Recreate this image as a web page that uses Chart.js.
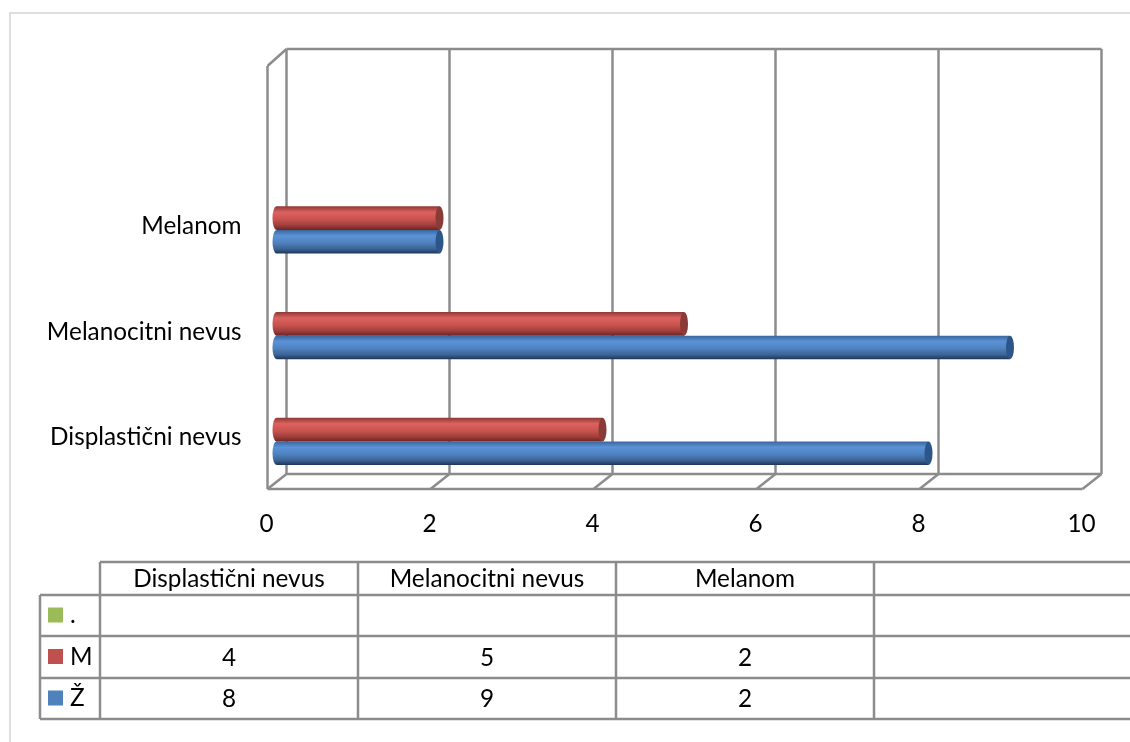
<!DOCTYPE html>
<html>
<head>
<meta charset="utf-8">
<script src="https://cdn.jsdelivr.net/npm/chart.js@4"></script>
<style>
  html, body { margin: 0; padding: 0; background: #fff; overflow: hidden; }
  #wrap { position: relative; width: 1130px; height: 742px; }
  #frame { position: absolute; left: 9px; top: 12px; width: 1125px; height: 740px; border: 2px solid #dedede; box-sizing: border-box; }
  canvas { position: absolute; left: 0; top: 0; }
</style>
</head>
<body>
<div id="wrap">
  <div id="frame"></div>
  <canvas id="chart" width="1130" height="742"></canvas>
</div>
<script>
// Data
const categories = ['Displastični nevus', 'Melanocitni nevus', 'Melanom', ''];
const seriesNames = ['.', 'M', 'Ž'];   // top to bottom, same order as the table rows
const valuesDot = [null, null, null, null];
const valuesM = [4, 5, 2, null];
const valuesZ = [8, 9, 2, null];
const xTicks = [0, 2, 4, 6, 8, 10];

const FONT = 'Lato, Carlito, sans-serif';
const FONT_SIZE = 24.3;
const GRID = '#8c8c8c';
const DEPTH_X = 19, DEPTH_Y = -15;      // back wall offset
const BAR_X = 9, BAR_Y = -6.5;          // bars sit halfway into the depth

const colours = ['#9bbb59', '#c0504d', '#4f81bd'];
const seriesValues = [valuesDot, valuesM, valuesZ];
const shades = [
  { top: '#9bbb59', light: '#9bbb59', mid: '#9bbb59', low: '#9bbb59', bottom: '#9bbb59', cap: '#9bbb59' },
  { top: '#8e3835', light: '#dd625e', mid: '#c9534f', low: '#a03f3c', bottom: '#6e2523', cap: '#8a3a37' },
  { top: '#3a659c', light: '#5b93d8', mid: '#4f81bd', low: '#3c6496', bottom: '#1d3557', cap: '#2d5688' }
];

function barGradient(ctx, el, s) {
  const half = el.height / 2;
  const g = ctx.createLinearGradient(0, el.y - half, 0, el.y + half);
  g.addColorStop(0, s.top);
  g.addColorStop(0.25, s.light);
  g.addColorStop(0.55, s.mid);
  g.addColorStop(0.8, s.low);
  g.addColorStop(1, s.bottom);
  return g;
}

// 3D box behind the bars
const wallsPlugin = {
  id: 'walls',
  beforeDatasetsDraw(chart) {
    const { ctx, chartArea: a, scales } = chart;
    ctx.save();
    ctx.strokeStyle = GRID;
    ctx.lineWidth = 2.5;
    ctx.lineJoin = 'round';
    const line = (x1, y1, x2, y2) => {
      ctx.beginPath(); ctx.moveTo(x1, y1); ctx.lineTo(x2, y2); ctx.stroke();
    };
    line(a.left, a.top, a.left, a.bottom);
    line(a.left, a.bottom, a.right, a.bottom);
    line(a.left, a.top, a.left + DEPTH_X, a.top + DEPTH_Y - 2);
    line(a.left + DEPTH_X, a.top + DEPTH_Y - 2, a.right + DEPTH_X, a.top + DEPTH_Y - 2);
    line(a.left + DEPTH_X, a.bottom + DEPTH_Y, a.right + DEPTH_X, a.bottom + DEPTH_Y);
    xTicks.forEach(t => {
      const x = scales.x.getPixelForValue(t);
      line(x, a.bottom, x + DEPTH_X, a.bottom + DEPTH_Y);
      line(x + DEPTH_X, a.top + DEPTH_Y - 2, x + DEPTH_X, a.bottom + DEPTH_Y);
    });
    ctx.restore();
  },
  beforeDatasetDraw(chart, args) {
    const ctx = chart.ctx;
    const s = shades[args.index];
    chart.getDatasetMeta(args.index).data.forEach(el => {
      el.options = Object.assign({}, el.options, { backgroundColor: barGradient(ctx, el, s) });
    });
    ctx.save();
    ctx.translate(BAR_X, BAR_Y);
  },
  afterDatasetDraw(chart, args) {
    const ctx = chart.ctx;
    const s = shades[args.index];
    chart.getDatasetMeta(args.index).data.forEach((el, i) => {
      if (chart.data.datasets[args.index].data[i] == null) return;
      const r = el.height / 2;
      // rounded start of the cylinder
      ctx.fillStyle = barGradient(ctx, el, s);
      ctx.beginPath();
      ctx.ellipse(el.base, el.y, 4, r, 0, 0, Math.PI * 2);
      ctx.fill();
      // end cap
      ctx.fillStyle = s.cap;
      ctx.beginPath();
      ctx.ellipse(el.x, el.y, 4, r, 0, 0, Math.PI * 2);
      ctx.fill();
    });
    ctx.restore();
  }
};

// Data table under the plot
const colX = [100, 358, 616, 874, 1136];
const rowY = [562, 595, 636, 678, 719];
const KEY_X = 40;
const tablePlugin = {
  id: 'dataTable',
  afterDraw(chart) {
    const ctx = chart.ctx;
    ctx.save();
    ctx.strokeStyle = GRID;
    ctx.lineWidth = 2.5;
    const line = (x1, y1, x2, y2) => {
      ctx.beginPath(); ctx.moveTo(x1, y1); ctx.lineTo(x2, y2); ctx.stroke();
    };
    line(colX[0], rowY[0], colX[4], rowY[0]);
    line(KEY_X, rowY[1], colX[4], rowY[1]);
    line(KEY_X, rowY[2], colX[4], rowY[2]);
    line(KEY_X, rowY[3], colX[4], rowY[3]);
    line(KEY_X, rowY[4], colX[4], rowY[4]);
    line(KEY_X, rowY[1], KEY_X, rowY[4]);
    colX.slice(0, 4).forEach(x => line(x, rowY[0], x, rowY[4]));

    ctx.fillStyle = '#000';
    ctx.font = FONT_SIZE + 'px ' + FONT;
    ctx.textBaseline = 'middle';
    ctx.textAlign = 'center';
    categories.forEach((c, i) => {
      ctx.fillText(c, (colX[i] + colX[i + 1]) / 2, 579);
    });
    seriesNames.forEach((name, r) => {
      const cy = (rowY[r + 1] + rowY[r + 2]) / 2;
      ctx.fillStyle = colours[r];
      ctx.fillRect(48, cy - 8, 15, 15);
      ctx.fillStyle = '#000';
      ctx.textAlign = 'left';
      ctx.fillText(name, 70, cy);
      ctx.textAlign = 'center';
      seriesValues[r].forEach((v, i) => {
        if (v != null) ctx.fillText(String(v), (colX[i] + colX[i + 1]) / 2, cy + 1);
      });
    });
    ctx.restore();
  }
};

new Chart(document.getElementById('chart').getContext('2d'), {
  type: 'bar',
  data: {
    labels: categories,
    datasets: seriesNames.map((name, i) => ({
      label: name, data: seriesValues[i], backgroundColor: colours[i]
    }))
  },
  options: {
    indexAxis: 'y',
    responsive: false,
    animation: false,
    devicePixelRatio: 1,
    layout: { padding: { left: 0, right: 47.5, top: 66, bottom: 0 } },
    categoryPercentage: 0.67,
    barPercentage: 1,
    scales: {
      x: {
        min: 0,
        max: 10,
        afterBuildTicks: s => { s.ticks = xTicks.map(v => ({ value: v })); },
        afterFit: s => { s.height = 253; },
        grid: { display: false },
        border: { display: false },
        ticks: { color: '#000', font: { family: FONT, size: FONT_SIZE }, padding: 13, maxRotation: 0, labelOffset: -1 }
      },
      y: {
        reverse: true,
        afterFit: s => { s.width = 267.5; },
        grid: { display: false },
        border: { display: false },
        ticks: { color: '#000', font: { family: FONT, size: FONT_SIZE }, padding: 18, labelOffset: 1.5 }
      }
    },
    plugins: { legend: { display: false }, tooltip: { enabled: false } }
  },
  plugins: [wallsPlugin, tablePlugin]
});
</script>
</body>
</html>
